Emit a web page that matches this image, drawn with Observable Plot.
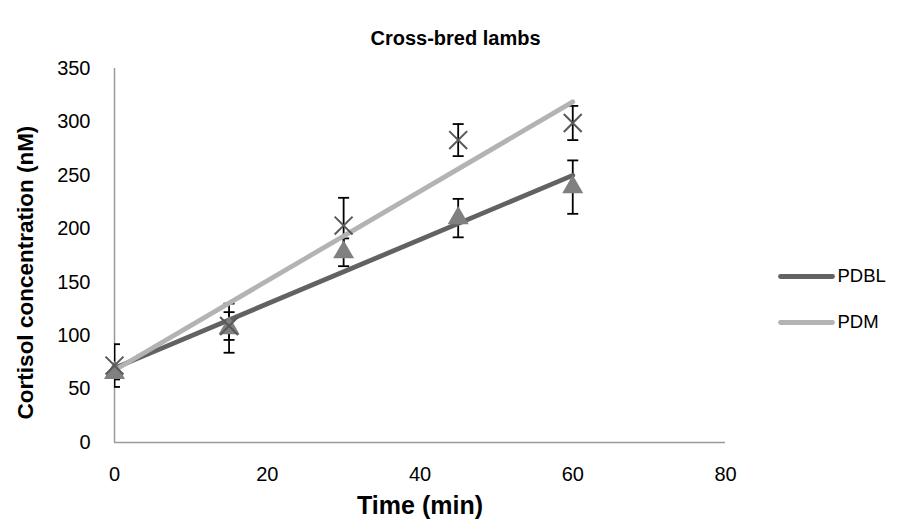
<!DOCTYPE html>
<html>
<head>
<meta charset="utf-8">
<script src="https://cdn.jsdelivr.net/npm/d3@7"></script>
<script src="https://cdn.jsdelivr.net/npm/@observablehq/plot@0.6"></script>
<style>
  html, body { margin: 0; padding: 0; background: #fff; }
</style>
</head>
<body>
<div id="chart"></div>
<script>
// ---- data ----
const chartTitle = "Cross-bred lambs";
const xLabel = "Time (min)";
const yLabel = "Cortisol concentration (nM)";
const times = [0, 15, 30, 45, 60];
const seriesNames = ["PDBL", "PDM"];
const pdblMean = [65, 107, 178, 210, 239];
const pdblErr  = [6, 23, 13, 18, 25];
const pdmMean  = [72, 109, 203, 283, 299];
const pdmErr   = [20, 13, 26, 15, 16];
const xTicks = [0, 20, 40, 60, 80];
const yTicks = [0, 50, 100, 150, 200, 250, 300, 350];

// ---- build table ----
const rows = [];
times.forEach((t, i) => {
  rows.push({series: "PDBL", t, v: pdblMean[i], e: pdblErr[i]});
  rows.push({series: "PDM", t, v: pdmMean[i], e: pdmErr[i]});
});
const pdbl = rows.filter(d => d.series === "PDBL");
const pdm = rows.filter(d => d.series === "PDM");

const lineColor = {PDBL: "#626262", PDM: "#b3b3b3"};

// custom symbols
const hCap = {draw(ctx) { ctx.moveTo(-5.5, 0); ctx.lineTo(5.5, 0); }};
const hLegend = {draw(ctx) { ctx.moveTo(-26, 0); ctx.lineTo(26, 0); }};

const font = "'Liberation Sans', Arial, sans-serif";
const tickFont = 20;

const plot = Plot.plot({
  width: 911,
  height: 528,
  marginLeft: 114,
  marginRight: 186,
  marginTop: 68,
  marginBottom: 86,
  style: {fontFamily: font, fontSize: tickFont + "px", color: "#000", background: "#fff"},
  x: {domain: [xTicks[0], xTicks[xTicks.length - 1]]},
  y: {domain: [yTicks[0], yTicks[yTicks.length - 1]]},
  marks: [
    Plot.axisX({ticks: xTicks, tickSize: 0, tickPadding: 24, label: null, fontSize: tickFont}),
    Plot.axisY({ticks: yTicks, tickSize: 0, tickPadding: 24, label: null, fontSize: tickFont}),
    Plot.ruleX([xTicks[0]], {stroke: "#9a9a9a", strokeWidth: 1.5}),
    Plot.ruleY([yTicks[0]], {stroke: "#9a9a9a", strokeWidth: 1.5}),
    // error bars
    Plot.ruleX(rows, {x: "t", y1: d => d.v - d.e, y2: d => d.v + d.e, stroke: "#000", strokeWidth: 1.8, clip: true}),
    Plot.dot(rows, {x: "t", y: d => d.v - d.e, symbol: hCap, fill: "none", stroke: "#000", strokeWidth: 1.8, clip: true}),
    Plot.dot(rows, {x: "t", y: d => d.v + d.e, symbol: hCap, fill: "none", stroke: "#000", strokeWidth: 1.8, clip: true}),
    // trend lines
    Plot.linearRegressionY(pdbl, {x: "t", y: "v", ci: 0, stroke: lineColor.PDBL, strokeWidth: 4.8, strokeLinecap: "round"}),
    Plot.linearRegressionY(pdm, {x: "t", y: "v", ci: 0, stroke: lineColor.PDM, strokeWidth: 4.8, strokeLinecap: "round"}),
    // markers
    Plot.dot(pdbl, {x: "t", y: "v", symbol: "triangle", r: 7.8, fill: "#808080", stroke: "none"}),
    Plot.dot(pdm, {x: "t", y: "v", symbol: "times", r: 8.2, stroke: "#595959", strokeWidth: 2}),
    // title & axis labels
    Plot.text([chartTitle], {frameAnchor: "top", dx: 35.5, dy: -38, fontSize: 20, fontWeight: "bold", fill: "#000"}),
    Plot.text([xLabel], {frameAnchor: "bottom", dy: 71, fontSize: 25, fontWeight: "bold", fill: "#000"}),
    Plot.text([yLabel], {frameAnchor: "left", textAnchor: "middle", dx: -89, dy: 17, rotate: -90, fontSize: 22.5, fontWeight: "bold", fill: "#000"}),
    // legend
    ...seriesNames.map((name, i) => Plot.dot([name], {frameAnchor: "right", dx: 81, dy: 21 + 46 * i, symbol: hLegend, fill: "none", stroke: lineColor[name], strokeWidth: 4.8, strokeLinecap: "round"})),
    ...seriesNames.map((name, i) => Plot.text([name], {frameAnchor: "right", dx: 112, dy: 21 + 46 * i, textAnchor: "start", fontSize: 18.5, fill: "#000"}))
  ]
});
document.getElementById("chart").appendChild(plot);
</script>
</body>
</html>
